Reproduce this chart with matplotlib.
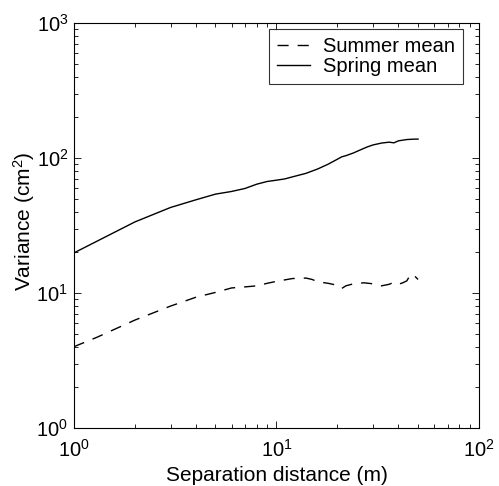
import matplotlib
matplotlib.use('Agg')
import matplotlib.pyplot as plt

plt.rcParams['font.family'] = ['Liberation Sans', 'DejaVu Sans']
plt.rcParams['mathtext.fontset'] = 'custom'
plt.rcParams['mathtext.rm'] = 'Liberation Sans'
plt.rcParams['mathtext.it'] = 'Liberation Sans'

# Spring mean variance
spring_x = [1, 2, 3, 4, 5, 6, 7, 8, 9, 10, 11, 12, 14, 16, 18, 20, 21, 22,
            24, 26, 28, 30, 33, 36, 38, 40, 44, 48, 50]
spring_y = [19.8, 33.6, 43, 49, 54, 56.5, 59.5, 64, 67, 68.5, 70, 72.5, 77,
            83, 90, 98, 102, 104, 109, 115, 120.6, 125, 129, 131, 129.5,
            134, 137, 138, 138]

# Summer mean variance
summer_x = [1, 1.3, 2, 3, 4, 5, 6, 7, 8, 9, 10, 12, 14, 15, 16, 18, 20, 21,
            22, 24, 27, 30, 33, 36, 38, 40, 42, 44, 46, 48, 50]
summer_y = [4.0, 4.7, 6.3, 8.0, 9.3, 10.1, 10.9, 11.1, 11.3, 11.8, 12.2, 12.8,
            12.9, 12.6, 12.1, 11.8, 11.4, 10.8, 11.3, 11.7, 11.9, 11.7, 11.3,
            11.6, 12.0, 11.6, 11.9, 12.3, 13.8, 13.4, 12.6]

fig = plt.figure(figsize=(4.99, 4.86), dpi=100)
ax = fig.add_axes([0.148, 0.1193, 0.812, 0.8334])

ax.plot(summer_x, summer_y, color='black', linewidth=1.0,
        linestyle=(0, (8, 6.5)), label='Summer mean')
ax.plot(spring_x, spring_y, color='black', linewidth=1.0,
        label='Spring mean')

ax.set_xscale('log')
ax.set_yscale('log')
ax.set_xlim(1, 100)
ax.set_ylim(1, 1000)

ax.set_xlabel('Separation distance (m)', fontsize=15)
ax.set_ylabel('Variance (cm$^2$)', fontsize=15)
ax.xaxis.set_label_coords(0.5, -0.093)
ax.yaxis.set_label_coords(-0.092, 0.51)

ax.tick_params(which='both', direction='in', top=True, right=True,
               width=0.6, labelsize=14.5)
ax.tick_params(which='major', length=5)
ax.tick_params(which='minor', length=3)
ax.tick_params(axis='y', which='major', pad=4)
ax.tick_params(axis='x', which='major', pad=7.5)
for s in ax.spines.values():
    s.set_linewidth(0.8)

leg = ax.legend(loc='upper right', bbox_to_anchor=(0.9605, 0.985),
                fontsize=14.5, frameon=True, fancybox=False, handlelength=1.65,
                borderaxespad=0, borderpad=0.4, labelspacing=0.05,
                handletextpad=0.65)
leg.get_frame().set_edgecolor('black')
leg.get_frame().set_linewidth(0.8)

plt.savefig('out.png', dpi=100)
